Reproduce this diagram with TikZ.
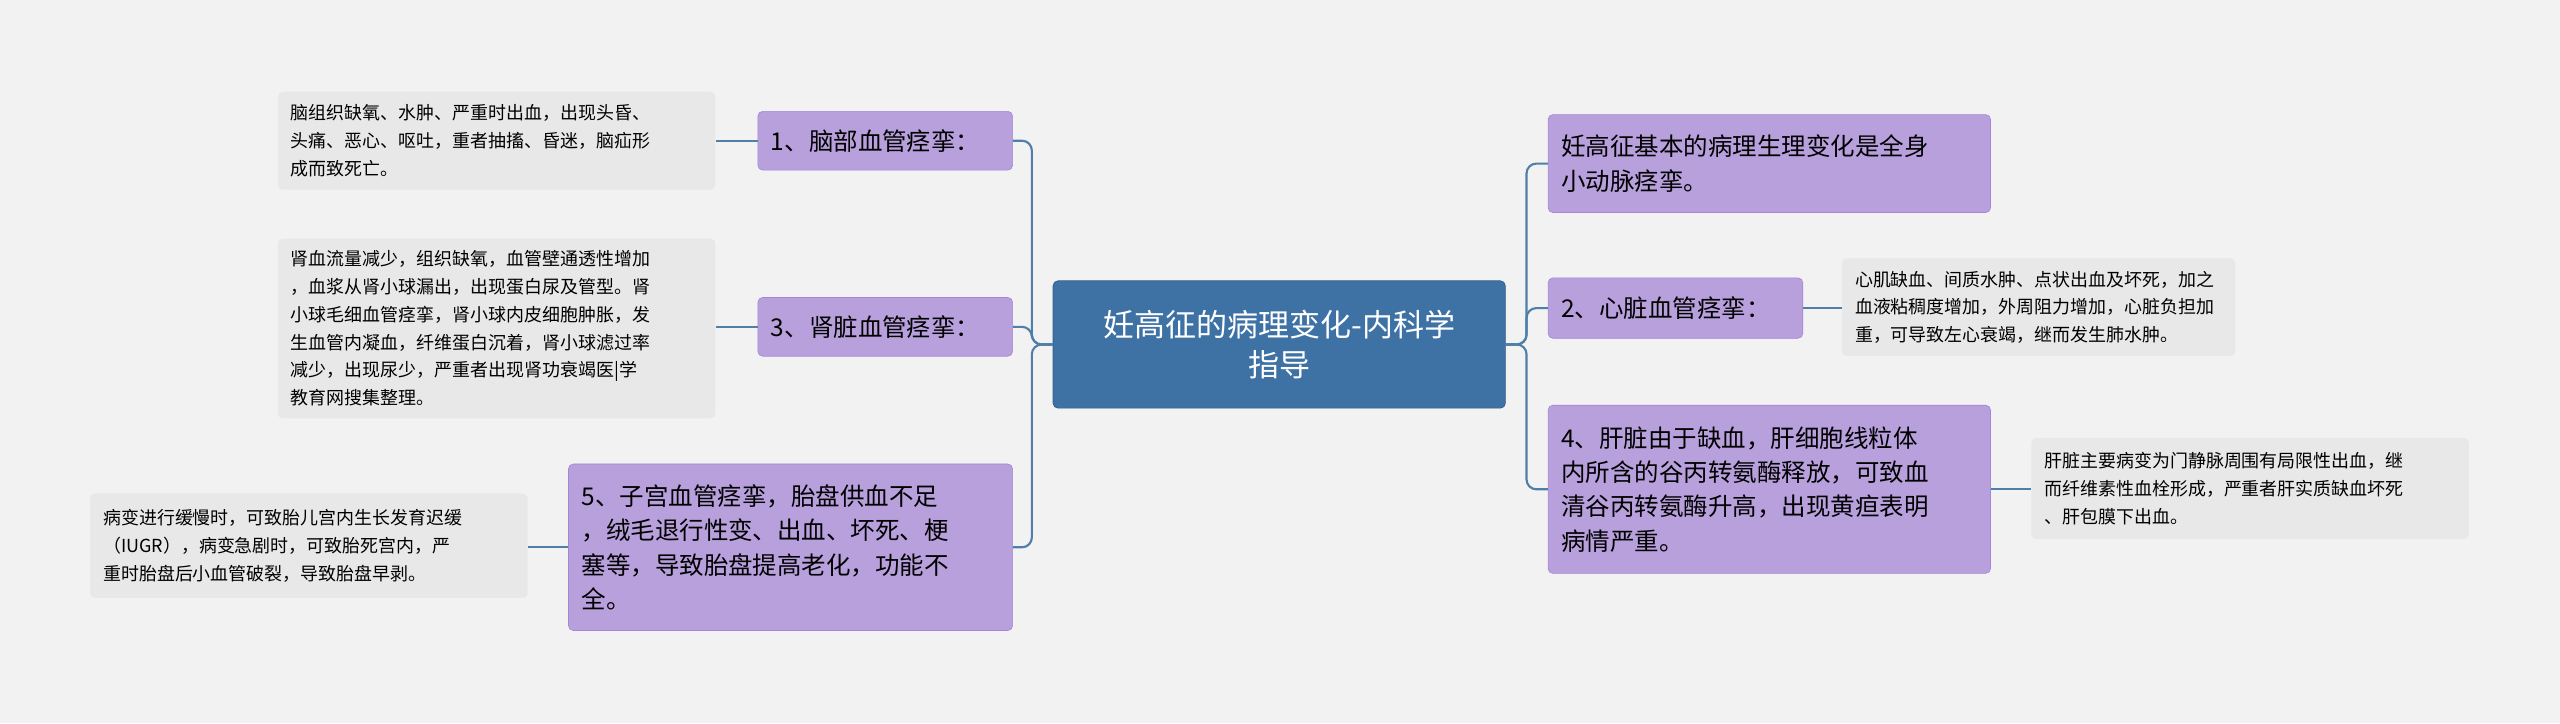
\documentclass[tikz,border=0pt]{standalone}
\usepackage{fontspec}
\setmainfont{Noto Sans CJK SC}
\definecolor{bgc}{HTML}{F2F2F2}
\definecolor{linec}{HTML}{4F7EA8}
\definecolor{mainc}{HTML}{3E72A5}
\definecolor{branchc}{HTML}{B8A0DD}
\definecolor{branchb}{HTML}{A486D6}
\definecolor{leafc}{HTML}{E8E8E8}
\tikzset{
  mainbox/.style={draw=mainc!80!black,fill=mainc,rounded corners=3pt,text=white,font=\fontsize{19}{25}\selectfont,align=center,inner sep=6pt},
  branchbox/.style={draw=branchb,fill=branchc,rounded corners=3pt,font=\fontsize{15}{21}\selectfont,align=left,anchor=north west,inner xsep=8pt,inner ysep=4pt},
  leafbox/.style={fill=leafc,rounded corners=3pt,font=\fontsize{11}{17}\selectfont,align=left,anchor=north west,inner xsep=8pt,inner ysep=4pt},
  link/.style={draw=linec,line width=1.3pt,rounded corners=6pt}
}
\begin{document}
\begin{tikzpicture}[x=1pt,y=-1pt]
\useasboundingbox[fill=bgc] (0,0) rectangle (1568,443);
\node[mainbox,minimum width=277,minimum height=78,text width=262] (main) at (783.5,211) {妊高征的病理变化-内科学\\指导};
% left branches
\node[branchbox,minimum width=156,minimum height=36,text width=140] (b1) at (464,68) {1、脑部血管痉挛：};
\node[branchbox,minimum width=156,minimum height=36,text width=140] (b3) at (464,182) {3、肾脏血管痉挛：};
\node[branchbox,minimum width=272,minimum height=102,text width=256] (b5) at (348,284) {5、子宫血管痉挛，胎盘供血不足\\，绒毛退行性变、出血、坏死、梗\\塞等，导致胎盘提高老化，功能不\\全。};
\node[leafbox,minimum width=268,minimum height=60,text width=252] (l1) at (170,56) {脑组织缺氧、水肿、严重时出血，出现头昏、\\头痛、恶心、呕吐，重者抽搐、昏迷，脑疝形\\成而致死亡。};
\node[leafbox,minimum width=268,minimum height=110,text width=252] (l3) at (170,146) {肾血流量减少，组织缺氧，血管壁通透性增加\\，血浆从肾小球漏出，出现蛋白尿及管型。肾\\小球毛细血管痉挛，肾小球内皮细胞肿胀，发\\生血管内凝血，纤维蛋白沉着，肾小球滤过率\\减少，出现尿少，严重者出现肾功衰竭医|学\\教育网搜集整理。};
\node[leafbox,minimum width=268,minimum height=64,text width=252] (l5) at (55,302) {病变进行缓慢时，可致胎儿宫内生长发育迟缓\\（IUGR），病变急剧时，可致胎死宫内，严\\重时胎盘后小血管破裂，导致胎盘早剥。};
% right branches
\node[branchbox,minimum width=271,minimum height=60,text width=255] (r1) at (948,70) {妊高征基本的病理生理变化是全身\\小动脉痉挛。};
\node[branchbox,minimum width=156,minimum height=37,text width=140] (r2) at (948,170) {2、心脏血管痉挛：};
\node[branchbox,minimum width=271,minimum height=103,text width=255] (r4) at (948,248) {4、肝脏由于缺血，肝细胞线粒体\\内所含的谷丙转氨酶释放，可致血\\清谷丙转氨酶升高，出现黄疸表明\\病情严重。};
\node[leafbox,minimum width=241,minimum height=60,text width=225] (rl2) at (1128,158) {心肌缺血、间质水肿、点状出血及坏死，加之\\血液粘稠度增加，外周阻力增加，心脏负担加\\重，可导致左心衰竭，继而发生肺水肿。};
\node[leafbox,minimum width=268,minimum height=62,text width=252] (rl4) at (1244,268) {肝脏主要病变为门静脉周围有局限性出血，继\\而纤维素性血栓形成，严重者肝实质缺血坏死\\、肝包膜下出血。};
% connectors
\coordinate (jl) at (632,211);
\coordinate (jr) at (935,211);
\draw[link] (main.west) -- (jl) |- (b1.east);
\draw[link] (main.west) -- (jl) |- (b3.east);
\draw[link] (main.west) -- (jl) |- (b5.east);
\draw[link] (main.east) -- (jr) |- (r1.west);
\draw[link] (main.east) -- (jr) |- (r2.west);
\draw[link] (main.east) -- (jr) |- (r4.west);
\draw[link] (b1.west) -- (l1.east);
\draw[link] (b3.west) -- (l3.east |- b3.west);
\draw[link] (b5.west) -- (l5.east |- b5.west);
\draw[link] (r2.east) -- (rl2.west |- r2.east);
\draw[link] (r4.east) -- (rl4.west |- r4.east);
\end{tikzpicture}
\end{document}
